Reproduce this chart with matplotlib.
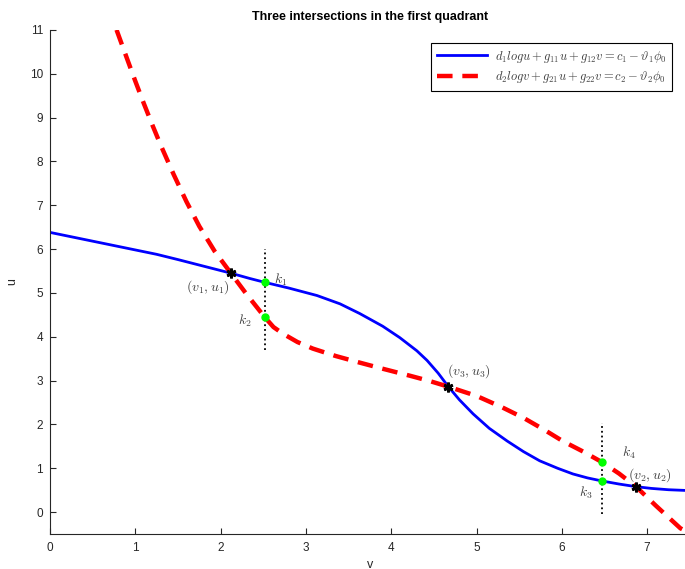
import numpy as np
import matplotlib
matplotlib.use('Agg')
import matplotlib.pyplot as plt

# curve 1 (blue, solid): u as function of v
blue_v = [0.0, 0.5, 1.0, 1.25, 1.5, 2.0, 2.12, 2.34, 2.52, 2.8, 3.13, 3.4, 3.63, 3.9,
          4.10, 4.3, 4.42, 4.55, 4.67, 4.8, 4.96, 5.15, 5.36, 5.55, 5.74, 5.95, 6.13,
          6.3, 6.47, 6.67, 6.87, 7.05, 7.25, 7.5]
blue_u = [6.38, 6.18, 5.98, 5.88, 5.76, 5.51, 5.45, 5.33, 5.24, 5.11, 4.94, 4.75, 4.53, 4.24,
          3.98, 3.68, 3.46, 3.17, 2.86, 2.56, 2.24, 1.91, 1.62, 1.38, 1.17, 1.0, 0.87,
          0.78, 0.71, 0.64, 0.58, 0.54, 0.51, 0.49]

# curve 2 (red, dashed)
red_v = [0.78, 0.9, 1.0, 1.1, 1.2, 1.3, 1.45, 1.6, 1.75, 1.93, 2.12, 2.3, 2.52, 2.62,
         2.73, 2.9, 3.08, 3.35, 3.63, 3.9, 4.22, 4.45, 4.67, 5.0, 5.3, 5.55, 5.8, 6.01,
         6.25, 6.47, 6.67, 6.87, 7.1, 7.39, 7.5]
red_u = [11.0, 10.36, 9.83, 9.32, 8.83, 8.36, 7.7, 7.08, 6.52, 5.95, 5.45, 4.98, 4.44, 4.22,
         4.07, 3.88, 3.73, 3.56, 3.41, 3.27, 3.11, 2.99, 2.86, 2.65, 2.39, 2.15, 1.87, 1.62,
         1.38, 1.14, 0.88, 0.58, 0.15, -0.37, -0.48]

# intersections and k points
inter_v = [2.12, 4.67, 6.87]
inter_u = [5.45, 2.86, 0.58]
k_v = [2.52, 2.52, 6.47, 6.47]
k_u = [5.24, 4.44, 0.71, 1.14]

# dotted vertical segments (v, u_top, u_bottom)
vlines = [(2.52, 6.0, 3.7), (6.47, 2.03, -0.05)]

plt.rcParams['font.family'] = ['Liberation Sans', 'DejaVu Sans']
plt.rcParams['mathtext.fontset'] = 'cm'

fig = plt.figure(figsize=(6.85, 5.69), dpi=100)
ax = fig.add_axes([0.073, 0.0615, 0.934, 0.886])

l1, = ax.plot(blue_v, blue_u, color='#0000ff', lw=2)
l2, = ax.plot(red_v, red_u, color='#ff0000', lw=3.2, ls=(0, (3.5, 2.2)))

for v, top, bot in vlines:
    ax.plot([v, v], [bot, top], color='black', ls=':', lw=1.3)

ax.plot(inter_v, inter_u, ls='none', marker=(6, 2, 0), ms=7, mew=2, color='black')
ax.plot(k_v, k_u, ls='none', marker='o', ms=5, color='#00ff00')

txt_color = '#404040'
ax.text(1.6, 5.13, r'$(v_1,u_1)$', fontsize=10, color=txt_color, va='center')
ax.text(2.62, 5.29, r'$k_1$', fontsize=10, color=txt_color, va='center')
ax.text(2.2, 4.37, r'$k_2$', fontsize=10, color=txt_color, va='center')
ax.text(4.65, 3.22, r'$(v_3,u_3)$', fontsize=10, color=txt_color, va='center')
ax.text(6.2, 0.43, r'$k_3$', fontsize=10, color=txt_color, va='center')
ax.text(6.7, 1.35, r'$k_4$', fontsize=10, color=txt_color, va='center')
ax.text(6.77, 0.85, r'$(v_2,u_2)$', fontsize=10, color=txt_color, va='center')

ax.set_xlim(0, 7.5)
ax.set_ylim(-0.5, 11)
ax.set_xticks(range(0, 8))
ax.set_yticks(range(0, 12))
ax.tick_params(direction='in', length=4, width=0.8, colors='#262626', labelsize=8.5)
ax.tick_params(axis='x', pad=6)
ax.tick_params(axis='y', pad=5)
ax.spines['top'].set_visible(False)
ax.spines['right'].set_visible(False)
for s in ['left', 'bottom']:
    ax.spines[s].set_color('#262626')
    ax.spines[s].set_linewidth(0.8)

ax.set_xlabel('v', fontsize=9, color='#262626', labelpad=3)
ax.set_ylabel('u', fontsize=9, color='#262626', labelpad=8)
ax.set_title('Three intersections in the first quadrant', fontsize=9, fontweight='bold', pad=7)

leg = fig.legend([l1, l2],
                 [r'$d_1 log u + g_{11}u + g_{12}v = c_1 - \vartheta_1\phi_0$',
                  r'$d_2 log v + g_{21}u + g_{22}v = c_2 - \vartheta_2\phi_0$'],
                 loc='upper right', bbox_to_anchor=(0.99, 0.935), fontsize=9,
                 fancybox=False, framealpha=1, edgecolor='black', handlelength=4.0,
                 borderpad=0.45, labelspacing=0.35, handletextpad=0.6)
leg.get_frame().set_linewidth(0.8)
for t in leg.get_texts():
    t.set_color(txt_color)

fig.savefig('out.png', dpi=100)
